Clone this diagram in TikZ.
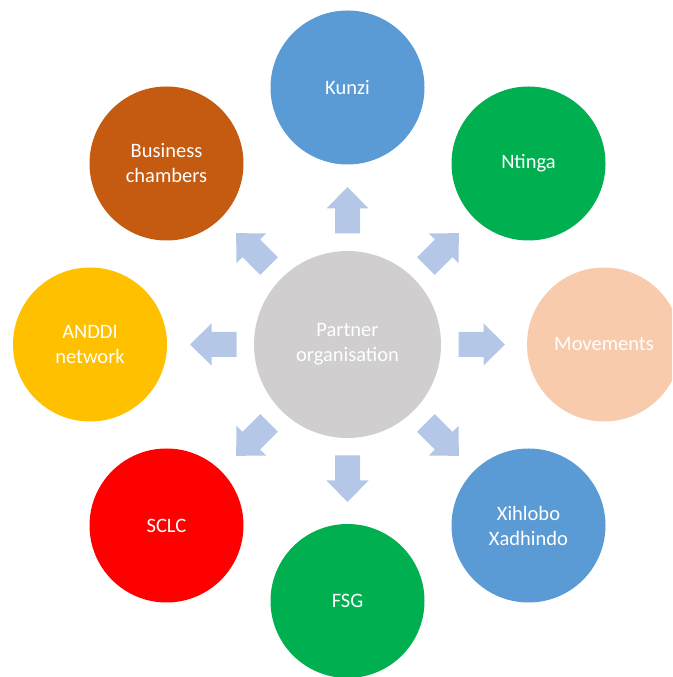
\documentclass[tikz,border=0pt]{standalone}
\usepackage{fontspec}
\setmainfont{Carlito}
\begin{document}
\definecolor{hubgrey}{HTML}{D0CECE}
\definecolor{arrowblue}{HTML}{B4C7E7}
\definecolor{midblue}{HTML}{5B9BD5}
\definecolor{leafgreen}{HTML}{00B050}
\definecolor{peach}{HTML}{F8CBAD}
\definecolor{brightred}{HTML}{FF0000}
\definecolor{amber}{HTML}{FFC000}
\definecolor{rust}{HTML}{C55A11}
\begin{tikzpicture}[x=1pt,y=1pt,
  hub/.style={circle,fill=hubgrey,minimum size=187pt,inner sep=0pt,text=white,
    align=center,font=\fontsize{20.5}{25}\selectfont},
  member/.style={circle,minimum size=154pt,inner sep=0pt,text=white,
    align=center,font=\fontsize{20.5}{25}\selectfont},
  blockarrow/.style={fill=arrowblue}]
\useasboundingbox (0,0) rectangle (672,677);
\clip (0,0) rectangle (672,677);
% central hub
\node[hub] (hub) at (347.5,332.5) {Partner\\organisation};
% surrounding members, clockwise from the top
\node[member,fill=midblue]    (kunzi)    at (347.5,589.5) {Kunzi};
\node[member,fill=leafgreen]  (ntinga)   at (528.5,513.5) {Ntinga};
\node[member,fill=peach]      (moves)    at (604,332.5)   {Movements};
\node[member,fill=midblue]    (xihlobo)  at (528.5,151.5) {Xihlobo\\Xadhindo};
\node[member,fill=leafgreen]  (fsg)      at (347.5,76)    {FSG};
\node[member,fill=brightred]  (sclc)     at (166.5,151.5) {SCLC};
\node[member,fill=amber]      (anddi)    at (90,332.5)    {ANDDI\\network};
\node[member,fill=rust]       (business) at (166.5,513.5) {Business\\chambers};
% block arrows radiating from the hub
\foreach \ang in {0,45,...,315}{
  \fill[blockarrow,shift={(hub.center)},rotate=\ang]
    (111,-12.5) -- (136,-12.5) -- (136,-21) -- (157.5,0) -- (136,21)
    -- (136,12.5) -- (111,12.5) -- cycle;
}
\end{tikzpicture}
\end{document}
